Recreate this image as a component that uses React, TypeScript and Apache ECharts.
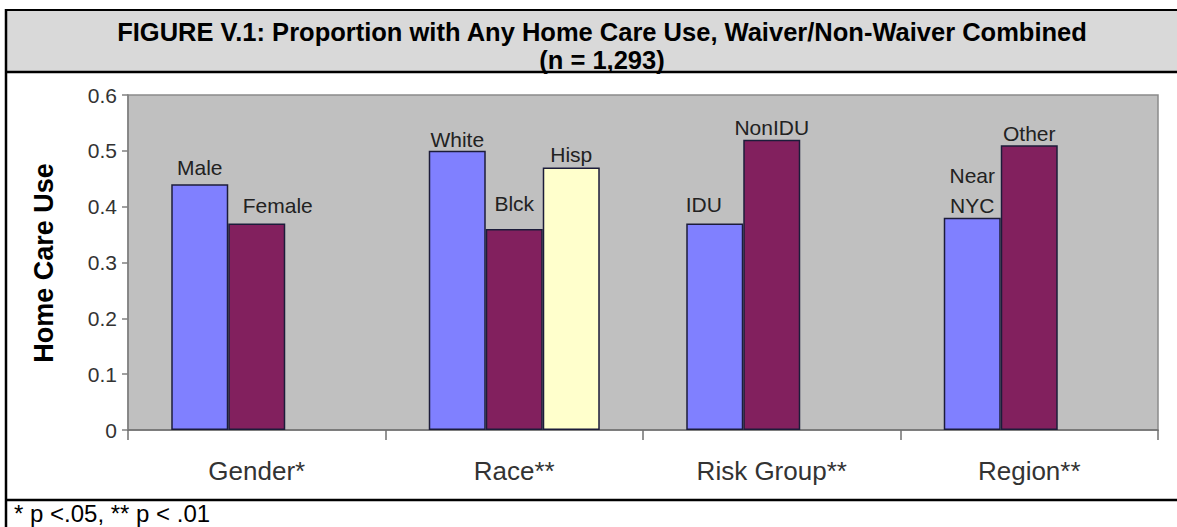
import React, { useEffect, useRef } from "react";
import * as echarts from "echarts";

const categories = ["Gender*", "Race**", "Risk Group**", "Region**"];
const series1Values = [0.44, 0.5, 0.37, 0.38];
const series2Values = [0.37, 0.36, 0.52, 0.51];
const series3Values: (number | null)[] = [null, 0.47, null, null];
const series1Labels = ["Male", "White", "IDU", "Near\nNYC"];
const series2Labels = ["Female", "Blck", "NonIDU", "Other"];
const series3Labels = ["", "Hisp", "", ""];
const yMin = 0;
const yMax = 0.6;
const yInterval = 0.1;
const titleLine1 = "FIGURE V.1: Proportion with Any Home Care Use, Waiver/Non-Waiver Combined";
const titleLine2 = "(n = 1,293)";
const yAxisTitle = "Home Care Use";
const footnote = "* p <.05, ** p < .01";

// label nudges (style only)
const labelNudge: Record<string, { offset: number[]; lineHeight?: number }> = {
  Male: { offset: [0, 0] },
  Female: { offset: [21, -1] },
  White: { offset: [0, 6] },
  Blck: { offset: [0, -9] },
  Hisp: { offset: [0, 4] },
  IDU: { offset: [-11, -2] },
  NonIDU: { offset: [0, 5] },
  "Near\nNYC": { offset: [0, 8], lineHeight: 30 },
  Other: { offset: [0, 5] },
};

const FONT = "'Liberation Sans', Arial, Helvetica, sans-serif";

function buildData(values: (number | null)[], labels: string[]) {
  return values.map((v, i) => {
    if (v === null) return "-";
    const n = labelNudge[labels[i]] || { offset: [0, 0] };
    return {
      value: v,
      label: {
        formatter: labels[i],
        offset: n.offset,
        lineHeight: n.lineHeight || 24,
      },
    };
  });
}

export default function App() {
  const ref = useRef<HTMLDivElement>(null);
  useEffect(() => {
    if (!ref.current) return;
    const chart = echarts.init(ref.current, undefined, { renderer: "svg" });
    const barLabel = {
      show: true,
      position: "top",
      distance: 5,
      fontFamily: FONT,
      fontSize: 21,
      color: "#222",
      lineHeight: 24,
    };
    const mkSeries = (name: string, values: (number | null)[], labels: string[], color: string) => ({
      name,
      type: "bar",
      barWidth: 57,
      barGap: "0%",
      data: buildData(values, labels),
      itemStyle: { color, borderColor: "#1c1c3a", borderWidth: 1.5 },
      label: barLabel,
      z: 3,
    });
    chart.setOption({
      animation: false,
      backgroundColor: "#ffffff",
      title: {
        text: titleLine1 + "\n" + titleLine2,
        left: 597,
        top: 13,
        textAlign: "center",
        textStyle: {
          fontFamily: FONT,
          fontWeight: "bold",
          fontSize: 25.5,
          lineHeight: 28,
          color: "#000",
        },
      },
      grid: {
        left: 128,
        top: 95,
        right: 19,
        bottom: 97,
        show: true,
        backgroundColor: "#c0c0c0",
        borderColor: "#8a8a8a",
        borderWidth: 1.5,
      },
      xAxis: {
        type: "category",
        data: categories,
        axisLine: { lineStyle: { color: "#707070", width: 1.5 } },
        axisTick: { show: true, length: 10, lineStyle: { color: "#707070", width: 1.5 } },
        axisLabel: { fontFamily: FONT, fontSize: 26, color: "#333", margin: 28 },
        splitLine: { show: false },
      },
      yAxis: {
        type: "value",
        min: yMin,
        max: yMax,
        interval: yInterval,
        axisLine: { show: true, lineStyle: { color: "#808080", width: 1.5 } },
        axisTick: { show: true, length: 6, lineStyle: { color: "#808080", width: 1.5 } },
        axisLabel: { fontFamily: FONT, fontSize: 21, color: "#333", margin: 11 },
        splitLine: { show: false },
      },
      series: [
        mkSeries("Series 1", series1Values, series1Labels, "#8080ff"),
        mkSeries("Series 2", series2Values, series2Labels, "#82205e"),
        mkSeries("Series 3", series3Values, series3Labels, "#ffffcc"),
      ],
      graphic: [
        {
          type: "rect",
          shape: { x: 7, y: 10, width: 1180, height: 62 },
          style: { fill: "#d9d9d9", stroke: "none" },
          z: -10,
        },
        { type: "line", shape: { x1: 6, y1: 9, x2: 6, y2: 527 }, style: { stroke: "#000", lineWidth: 2.5 }, z: 10 },
        { type: "line", shape: { x1: 5, y1: 10, x2: 1177, y2: 10 }, style: { stroke: "#000", lineWidth: 2 }, z: 10 },
        { type: "line", shape: { x1: 5, y1: 72, x2: 1177, y2: 72 }, style: { stroke: "#000", lineWidth: 2.5 }, z: 10 },
        { type: "line", shape: { x1: 5, y1: 500, x2: 1177, y2: 500 }, style: { stroke: "#000", lineWidth: 2.5 }, z: 10 },
        {
          type: "text",
          x: 44,
          y: 263,
          rotation: Math.PI / 2,
          style: {
            text: yAxisTitle,
            fontFamily: FONT,
            fontWeight: "bold",
            fontSize: 27,
            fill: "#000",
            align: "center",
            verticalAlign: "middle",
          },
          z: 10,
        },
        {
          type: "text",
          x: 14,
          y: 513,
          style: {
            text: footnote,
            fontFamily: FONT,
            fontSize: 24,
            fill: "#000",
            align: "left",
            verticalAlign: "middle",
          },
          z: 10,
        },
      ],
    });
    return () => chart.dispose();
  }, []);
  return (
    <div
      ref={ref}
      style={{ position: "absolute", left: 0, top: 0, width: 1177, height: 527, background: "#fff" }}
    />
  );
}
